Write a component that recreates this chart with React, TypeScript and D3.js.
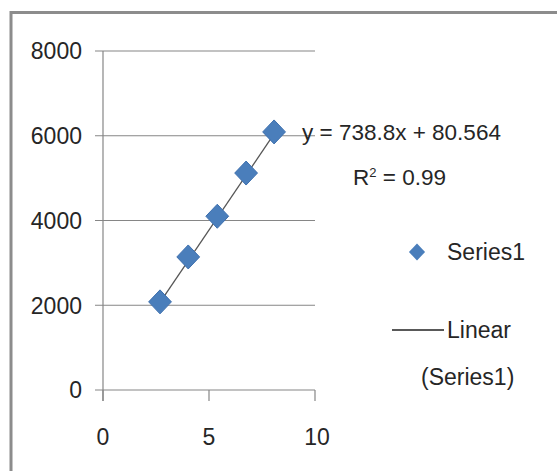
import React from "react";
import * as d3 from "d3";

const xValues = [2.69, 4.02, 5.39, 6.75, 8.07];
const yValues = [2080, 3140, 4100, 5120, 6090];
const xTicks = [0, 5, 10];
const yTicks = [0, 2000, 4000, 6000, 8000];
const slope = 738.8;
const intercept = 80.564;
const equationLabel = "y = 738.8x + 80.564";
const seriesName = "Series1";
const trendName1 = "Linear";
const trendName2 = "(Series1)";

const W = 557;
const H = 471;
const FONT = "'Liberation Sans', Arial, sans-serif";

export default function App() {
  const x = d3.scaleLinear().domain([0, 10]).range([103, 315]);
  const y = d3.scaleLinear().domain([0, 8000]).range([390, 51]);
  const data = xValues.map((v, i) => ({ x: v, y: yValues[i] }));
  const xmin = d3.min(xValues) as number;
  const xmax = d3.max(xValues) as number;
  const line = d3
    .line<number>()
    .x((d) => x(d))
    .y((d) => y(slope * d + intercept));
  const diamond = (s: number) => `M0,${-s}L${s * 0.95},0L0,${s}L${-s * 0.95},0Z`;
  const grid = "#868686";
  const textColor = "#262626";
  return (
    <svg
      width={W}
      height={H}
      style={{ position: "absolute", left: 0, top: 0, background: "#fff" }}
      fontFamily={FONT}
    >
      <rect x={0} y={0} width={W} height={H} fill="#fff" />
      {/* outer border */}
      <line x1={10} x2={W} y1={12.5} y2={12.5} stroke="#8c8c8c" strokeWidth={3} />
      <line x1={11} x2={11} y1={11} y2={H} stroke="#8c8c8c" strokeWidth={3} />

      {/* gridlines */}
      {yTicks.map((t) => (
        <line key={"g" + t} x1={95} x2={x(10)} y1={y(t)} y2={y(t)} stroke={grid} strokeWidth={1.2} />
      ))}
      {/* y axis */}
      <line x1={x(0)} x2={x(0)} y1={y(8000)} y2={y(0) + 11} stroke={grid} strokeWidth={1.2} />
      {/* x ticks */}
      {xTicks.map((t) => (
        <line key={"xt" + t} x1={x(t)} x2={x(t)} y1={y(0)} y2={y(0) + 11} stroke={grid} strokeWidth={1.2} />
      ))}
      {/* y labels */}
      {yTicks.map((t) => (
        <text key={"yl" + t} x={82} y={y(t)} dy="0.36em" textAnchor="end" fontSize={23} fill={textColor}>
          {t}
        </text>
      ))}
      {/* x labels */}
      {xTicks.map((t) => (
        <text key={"xl" + t} x={x(t) + (t === 10 ? 2 : 0)} y={437} dy="0.36em" textAnchor="middle" fontSize={23} fill={textColor}>
          {t}
        </text>
      ))}

      {/* trendline */}
      <path d={line([xmin, xmax]) || ""} fill="none" stroke="#555" strokeWidth={1.3} />

      {/* points */}
      {data.map((d, i) => (
        <path
          key={"p" + i}
          d={diamond(12)}
          transform={`translate(${x(d.x)},${y(d.y)})`}
          fill="#4a7ebb"
          stroke="#3d6fae"
          strokeWidth={1}
        />
      ))}

      {/* equation */}
      <text x={302} y={132} dy="0.36em" fontSize={22.5} fill={textColor}>
        {equationLabel}
      </text>
      <text x={353} y={177} dy="0.36em" fontSize={22.5} fill={textColor}>
        R<tspan dy="-8" fontSize={13}>2</tspan>
        <tspan dy="8"> = 0.99</tspan>
      </text>

      {/* legend */}
      <path d={diamond(8.5)} transform="translate(417,252)" fill="#4a7ebb" />
      <text x={447} y={252} dy="0.36em" fontSize={23} fill={textColor}>
        {seriesName}
      </text>
      <line x1={392} x2={444} y1={330} y2={330} stroke="#222" strokeWidth={1.3} />
      <text x={447} y={330} dy="0.36em" fontSize={23} fill={textColor}>
        {trendName1}
      </text>
      <text x={421} y={377} dy="0.36em" fontSize={23} fill={textColor}>
        {trendName2}
      </text>
    </svg>
  );
}
